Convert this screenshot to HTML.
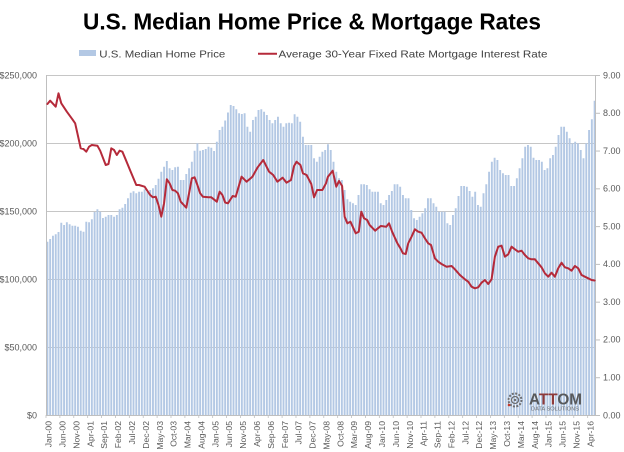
<!DOCTYPE html>
<html>
<head>
<meta charset="utf-8">
<style>
html,body{margin:0;padding:0;background:#fff;}
svg{display:block;font-family:"Liberation Sans",Arial,sans-serif;}
</style>
</head>
<body>
<svg id="c" width="624" height="452" viewBox="0 0 624 452" xmlns="http://www.w3.org/2000/svg">
<rect x="0" y="0" width="624" height="452" fill="#fff"/>
<text x="83" y="29.5" font-size="23" font-weight="bold" fill="#000" textLength="458" lengthAdjust="spacingAndGlyphs">U.S. Median Home Price &amp; Mortgage Rates</text>
<rect x="79" y="50" width="17" height="6" fill="#b3c8e4"/>
<text x="99.3" y="57.5" font-size="10.5" fill="#404040" textLength="126" lengthAdjust="spacingAndGlyphs">U.S. Median Home Price</text>
<line x1="258" y1="53.7" x2="277" y2="53.7" stroke="#b52a3a" stroke-width="2"/>
<text x="278.5" y="57.5" font-size="10.5" fill="#404040" textLength="269" lengthAdjust="spacingAndGlyphs">Average 30-Year Fixed Rate Mortgage Interest Rate</text>
<g id="grid"></g>
<g id="bars"></g>
<g id="axes"></g>
<g id="labels"></g>
<polyline id="rate" fill="none" stroke="#b52a3a" stroke-width="2" stroke-linejoin="round" stroke-linecap="round" points=""/>
<g id="logo">
  <g transform="translate(515,400)">
    <circle cx="0" cy="0" r="6.5" fill="none" stroke="#6d6e71" stroke-width="2" stroke-dasharray="2 1.4"/>
    <circle cx="0" cy="0" r="3.5" fill="none" stroke="#6d6e71" stroke-width="1.3"/>
    <circle cx="0" cy="0" r="1.2" fill="#6d6e71"/>
    <circle cx="-6" cy="5" r="1.3" fill="#c0392b"/>
  </g>
  <text x="529" y="404.5" font-size="15.5" font-weight="bold" fill="#58595b" textLength="53" lengthAdjust="spacingAndGlyphs">A<tspan fill="#8e3a3a">TT</tspan>OM</text>
  <text x="531" y="410.5" font-size="5" fill="#6d6e71" textLength="48" lengthAdjust="spacingAndGlyphs">DATA SOLUTIONS</text>
</g>
</svg>
<script>
(function(){
var NS="http://www.w3.org/2000/svg";
function el(tag,attrs,parent,txt){var e=document.createElementNS(NS,tag);for(var k in attrs)e.setAttribute(k,attrs[k]);if(txt!=null)e.textContent=txt;parent.appendChild(e);return e;}
var W=550/198, X0=46, Y0=415, TOP=75;
function cx(i){return X0+(i+0.5)*W;}
var grid=document.getElementById('grid'),bars=document.getElementById('bars'),axes=document.getElementById('axes'),labels=document.getElementById('labels');
// gridlines and left labels
var leftL=["$0","$50,000","$100,000","$150,000","$200,000","$250,000"];
for(var k=0;k<=5;k++){
  var y=Y0-k*68;
  if(k>0) el('line',{x1:46,y1:y+0.5,x2:596,y2:y+0.5,stroke:'#c6c6c6','stroke-width':1},grid);
  el('text',{x:37,y:y+3.3,'font-size':9,'text-anchor':'end',fill:'#595959'},labels,leftL[k]);
}
// right labels
for(var r=0;r<=9;r++){
  var yr=Y0-r*340/9;
  el('line',{x1:596,y1:yr+0.5,x2:600,y2:yr+0.5,stroke:'#bfbfbf','stroke-width':1},axes);
  el('text',{x:603,y:yr+3.3,'font-size':9,fill:'#595959'},labels,r.toFixed(2));
}
// bars
var ys=[241.7,239,235.7,234.3,232,222.7,225,222.3,224.3,225.7,
225.7,226.7,230.7,231.7,221.7,222.3,219.3,212,209.3,211.7,
218,216.7,215,215,216.7,215,209.3,207.7,204,198.3,
192.7,191.3,193.3,191.7,191.7,189.3,192,190,188.3,185,
178.7,171.7,166.7,161,168.3,170,167.3,166.7,180,180,
174,168.3,161.7,150.7,143.3,150.7,150,149,146.7,147.7,
151,141.7,130,126.7,120.5,112.5,105,106,109.3,113.3,
114,113.3,126.7,131.7,120,116.7,110,109.3,111.7,115,
120,123.3,120,116.7,123.3,126.7,123.3,122.7,123.3,114.3,
116.7,121.7,136.7,145,145,145,158.3,161.7,156.7,151.7,
150,144.3,150,161.7,171.7,178.3,180,190,199.3,201.7,
203.3,205,195,184.3,184.3,185,189.3,191.7,191.7,191.7,
203.3,205,200,195,191,184.3,184.3,186.7,195,198.3,
198.3,210,218.3,220,216.7,213.3,208.3,198.3,198.3,203.3,
206.7,211.7,211.7,211.7,223.3,225,215,208.3,196,186,
186,186.7,191,196.7,191.7,205,206.7,193.3,184.3,171.7,
161.7,157.7,160,170,173.3,175,175,186,186,178.3,
168.3,158.3,146.7,145,146.7,157.7,160,160,161.7,170,
168.3,158.3,155,146.7,135,126.7,126.7,131.7,138.3,143.3,
141.7,143.3,150,158.3,143.3,130,119.3,100.7];
var d="";
for(var i=0;i<ys.length;i++){
  var x=X0+i*W+0.45;
  d+="M"+x.toFixed(2)+" "+ys[i]+"H"+(x+1.9).toFixed(2)+"V"+Y0+"H"+x.toFixed(2)+"Z";
}
el('path',{d:d,fill:'#b3c8e4'},bars);
// axes
el('line',{x1:46.5,y1:TOP,x2:46.5,y2:Y0,stroke:'#bfbfbf','stroke-width':1},axes);
el('line',{x1:595.5,y1:TOP,x2:595.5,y2:Y0+0.5,stroke:'#bfbfbf','stroke-width':1},axes);
el('line',{x1:46,y1:Y0+0.5,x2:596,y2:Y0+0.5,stroke:'#bfbfbf','stroke-width':1},axes);
// x labels
var mn=["Jan","Feb","Mar","Apr","May","Jun","Jul","Aug","Sep","Oct","Nov","Dec"];
for(var j=0;j<=195;j+=5){
  var m=j%12, yy=Math.floor(j/12);
  var s=mn[m]+"-"+(yy<10?"0"+yy:""+yy);
  var ax=cx(j)+4.3, ay=421;
  el('line',{x1:X0+j*W,y1:Y0,x2:X0+j*W,y2:Y0+3,stroke:'#bfbfbf','stroke-width':0.8},axes);
  el('text',{x:ax,y:ay,'font-size':8.6,'text-anchor':'end',fill:'#595959',transform:'rotate(-90 '+ax.toFixed(2)+' '+ay+')'},labels,s);
}
// rate line
var pts=[[0,104],[1,100.7],[3,106.7],[4,93.3],[5,103.3],[7,111.7],[9,119.3],[10,123.3],[12,148.3],[13,149],[14,151.7],[15,146.7],[16,145],[18,145.7],[19,150.7],[21,165],[22,164],[23,148.3],[24,150],[25,155],[26,150.7],[27,151.7],[28,158.3],[30,171.7],[32,185],[33,185],[35,186.7],[37,195],[38,197.3],[39,196.7],[40,205],[41,216.7],[42,203.3],[43,179.3],[44,183.3],[45,190],[46,190.7],[47,193.3],[48,201.7],[50,207.7],[51,193.3],[52,178.3],[53,177.3],[54,185],[55,193.3],[56,196.7],[58,197.3],[59,197.3],[61,201.7],[62,191.7],[63,195],[64,202.5],[65,203.3],[66.7,196],[67.8,196.7],[69.9,176.7],[71.7,181.7],[73.8,176.7],[75.7,167.3],[77.7,160],[79.8,171.7],[81.3,175],[82.8,181.7],[84.7,177.7],[86.1,182.7],[87.7,180],[88.8,166],[89.7,161.7],[91.1,165],[92,173.3],[93.3,175],[95,184],[96,197.3],[97.1,190],[99,190],[100.3,183.3],[101,176.7],[102.7,170.7],[104,186.7],[105,181],[106.1,186],[107,216.7],[108,223.3],[109.1,221.7],[111,233.3],[112.1,231.7],[113,211.7],[114,218.3],[115.1,220],[116,225],[118,230.7],[119,228.3],[120,226],[122,226.7],[123,223.3],[124.1,231.7],[126,243.3],[127.1,248.3],[128,253.3],[129,254],[129.9,243.3],[131.1,236.7],[132.3,229.3],[133.5,231.7],[134.7,232.7],[135.9,238.3],[137.1,243.3],[138.1,245],[139.5,258.3],[140.7,261.7],[141.9,264],[143.7,266.7],[145.5,266],[146.7,269.3],[148.5,275],[150.3,279.3],[151.5,281.7],[152.7,286.7],[153.9,288.3],[155.1,287.3],[156.3,282.7],[157.5,280],[158.7,284],[159.9,279.3],[161.1,256.7],[162.3,246.7],[163.5,245.7],[164.7,256.7],[165.9,254.3],[167.1,246.7],[168.3,249.3],[169.5,251.7],[170.7,250.7],[171.9,255],[173.1,258.3],[174.3,259.3],[175.5,259.3],[176.7,263.3],[177.9,267.3],[179.1,273.3],[180.3,276.7],[181.5,272.7],[182.7,276.7],[183.9,268.3],[185.1,262.7],[186.3,267.3],[187.5,268.3],[188.7,270.7],[189.9,266],[191.1,268.3],[192.3,275],[193.5,276.7],[194.7,278.3],[195.9,280],[197,280.5]];
var ps=pts.map(function(p){return cx(p[0]).toFixed(2)+","+p[1];}).join(" ");
document.getElementById('rate').setAttribute('points',ps);
// bring logo to front
var svg=document.getElementById('c');svg.appendChild(document.getElementById('logo'));
})();
</script>
</body>
</html>
